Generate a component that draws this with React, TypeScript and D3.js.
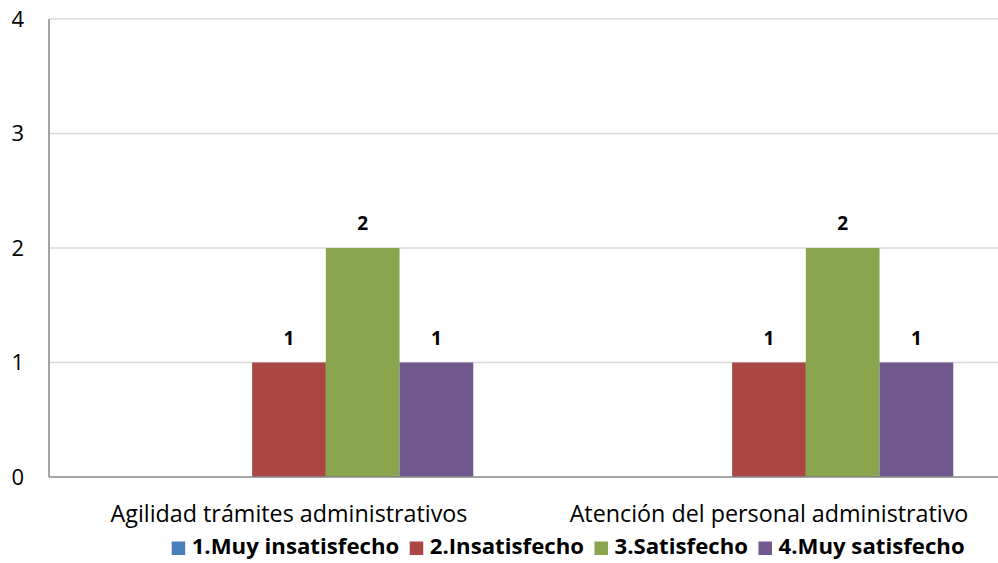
import React, { useEffect, useRef } from "react";
import * as d3 from "d3";

const categories = ["Agilidad trámites administrativos", "Atención del personal administrativo"];
const seriesNames = ["1.Muy insatisfecho", "2.Insatisfecho", "3.Satisfecho", "4.Muy satisfecho"];
const seriesColors = ["#4A7EBB", "#AA4643", "#89A54E", "#71588F"];
const muyInsatisfecho = [0, 0];
const insatisfecho = [1, 1];
const satisfecho = [2, 2];
const muySatisfecho = [1, 1];
const yTicks = [0, 1, 2, 3, 4];
// Excel reserved an empty first slot in each cluster
const hiddenSlot = "";

const W = 998;
const H = 563;
const FONT = "'Open Sans', Lato, sans-serif";
const AXIS_FS = 22;
const CAT_FS = 23.3;
const LEGEND_FS = 22.2;
const LABEL_FS = 19;

export default function App() {
  const ref = useRef<SVGSVGElement | null>(null);

  useEffect(() => {
    const svg = d3.select(ref.current);
    svg.selectAll("*").remove();

    const left = 49, right = 1009, top = 19, bottom = 477;
    const seriesValues = [muyInsatisfecho, insatisfecho, satisfecho, muySatisfecho];

    const x = d3.scaleBand<string>().domain(categories).range([left, right]);
    const slots = [hiddenSlot, ...seriesNames];
    const xs = d3.scaleBand<string>().domain(slots).range([0, x.bandwidth()]).paddingInner(0).paddingOuter(0.756);
    const y = d3.scaleLinear().domain([0, 4]).range([bottom, top]);

    // gridlines
    svg.append("g").selectAll("line").data(yTicks.filter(t => t > 0)).join("line")
      .attr("x1", left).attr("x2", right)
      .attr("y1", d => y(d)).attr("y2", d => y(d))
      .attr("stroke", "#D9D9D9").attr("stroke-width", 1.3);

    // y tick labels
    svg.append("g").selectAll("text").data(yTicks).join("text")
      .attr("x", 24).attr("y", d => y(d))
      .attr("dy", "0.36em")
      .attr("text-anchor", "end")
      .attr("font-family", FONT).attr("font-size", AXIS_FS).attr("fill", "#000")
      .text(d => String(d));

    // bars
    const barData: { cat: string; s: string; v: number; color: string }[] = [];
    categories.forEach((c, ci) => {
      seriesNames.forEach((s, si) => {
        barData.push({ cat: c, s, v: seriesValues[si][ci], color: seriesColors[si] });
      });
    });
    svg.append("g").selectAll("rect").data(barData.filter(d => d.v > 0)).join("rect")
      .attr("x", d => (x(d.cat) as number) + (xs(d.s) as number))
      .attr("width", xs.bandwidth())
      .attr("y", d => y(d.v))
      .attr("height", d => y(0) - y(d.v))
      .attr("fill", d => d.color);

    // data labels
    svg.append("g").selectAll("text").data(barData.filter(d => d.v > 0)).join("text")
      .attr("x", d => (x(d.cat) as number) + (xs(d.s) as number) + xs.bandwidth() / 2)
      .attr("y", d => y(d.v) - 18)
      .attr("text-anchor", "middle")
      .attr("font-family", FONT).attr("font-size", LABEL_FS).attr("font-weight", "bold")
      .text(d => String(d.v));

    // axes lines
    svg.append("line").attr("x1", left).attr("x2", left).attr("y1", top).attr("y2", bottom)
      .attr("stroke", "#868686").attr("stroke-width", 1.5);
    svg.append("line").attr("x1", left).attr("x2", right).attr("y1", bottom).attr("y2", bottom)
      .attr("stroke", "#868686").attr("stroke-width", 1.5);

    // category labels
    svg.append("g").selectAll("text").data(categories).join("text")
      .attr("x", d => (x(d) as number) + x.bandwidth() / 2)
      .attr("y", 522)
      .attr("text-anchor", "middle")
      .attr("font-family", FONT).attr("font-size", CAT_FS).attr("fill", "#000")
      .text(d => d);

    // legend
    const lg = svg.append("g");
    let cx = 171.7;
    seriesNames.forEach((s, i) => {
      lg.append("rect").attr("x", cx).attr("y", 541.5).attr("width", 13.5).attr("height", 13.5)
        .attr("fill", seriesColors[i]);
      const t = lg.append("text").attr("x", cx + 20).attr("y", 554.3)
        .attr("font-family", FONT).attr("font-size", LEGEND_FS).attr("font-weight", "bold")
        .text(s);
      const w = (t.node() as SVGTextElement).getComputedTextLength();
      cx = cx + 20 + w + 10.5;
    });
  }, []);

  return (
    <svg ref={ref} width={W} height={H}
      style={{ position: "absolute", left: 0, top: 0, background: "#fff" }} />
  );
}
